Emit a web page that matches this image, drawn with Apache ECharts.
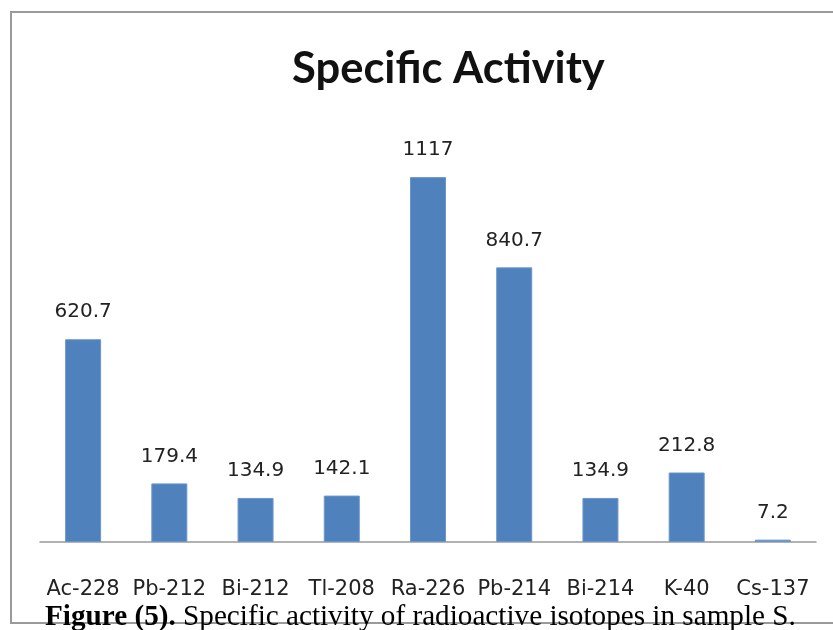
<!DOCTYPE html>
<html><head><meta charset="utf-8">
<script src="https://cdn.jsdelivr.net/npm/echarts@6/dist/echarts.min.js"></script>
<style>html,body{margin:0;padding:0;background:#fff}#c{width:833px;height:630px}</style>
</head><body><div id="c"></div>
<script>
const categories = ['Ac-228','Pb-212','Bi-212','Tl-208','Ra-226','Pb-214','Bi-214','K-40','Cs-137'];
const activity = [620.7,179.4,134.9,142.1,1117,840.7,134.9,212.8,7.2];
const titleText = 'Specific Activity';
const captionBold = 'Figure (5).';
const captionText = ' Specific activity of radioactive isotopes in sample S.';

const chart = echarts.init(document.getElementById('c'), null, {renderer:'canvas'});
chart.setOption({
  backgroundColor:'#fff',
  animation:false,
  title:{text:titleText,left:287,top:42,textStyle:{fontFamily:'Lato',fontWeight:'bold',fontSize:43.5,color:'#111'}},
  grid:{left:40,right:17,top:150,bottom:88},
  xAxis:{type:'category',data:categories,
    axisLine:{lineStyle:{color:'#999',width:1.5}},axisTick:{show:false},
    axisLabel:{interval:0,margin:37,fontFamily:'DejaVu Sans',fontSize:21,color:'#222'}},
  yAxis:{type:'value',min:0,max:1200,show:false,splitLine:{show:false}},
  series:[{type:'bar',data:activity,barWidth:36,
    itemStyle:{color:'#4F81BD',borderColor:'#6b96cc',borderWidth:1},
    label:{show:true,position:'top',distance:17,fontFamily:'DejaVu Sans',fontSize:20,color:'#222'}}],
  graphic:[
    {type:'rect',shape:{x:11,y:12,width:840,height:611},style:{fill:null,stroke:'#9a9a9a',lineWidth:2},z:-1},
    {type:'text',left:45,top:603,style:{text:'{b|'+captionBold+'}{n|'+captionText+'}',
      rich:{b:{fontFamily:'Liberation Serif',fontWeight:'bold',fontSize:29.2,fill:'#000'},
            n:{fontFamily:'Liberation Serif',fontSize:29.2,fill:'#000'}}},z:10}
  ]
});
</script></body></html>
